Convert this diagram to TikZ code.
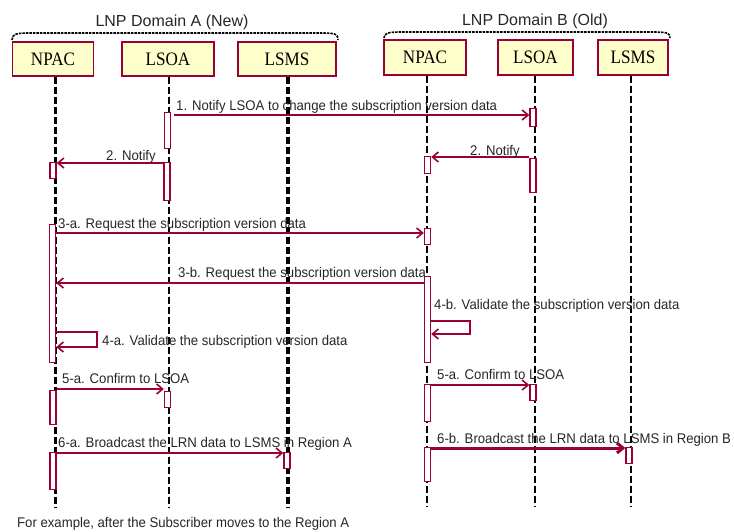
\documentclass[tikz,border=0pt]{standalone}
\usepackage{fontspec}
\setmainfont{Liberation Sans}
\newfontfamily\boxf[FakeStretch=0.9]{Liberation Serif}
\newfontfamily\lblf[FakeStretch=0.94]{Liberation Sans}
\usetikzlibrary{arrows.meta}
\definecolor{crim}{HTML}{990033}
\definecolor{boxy}{HTML}{FFFFCC}
\tikzset{
  obj/.style={rectangle, draw=crim, fill=boxy, line width=1.3pt, inner sep=0pt,
    font=\boxf\fontsize{19}{19}\selectfont},
  life/.style={draw=black, line width=2.4pt, dash pattern=on 7pt off 3pt},
  act/.style={rectangle, draw=crim, fill=white, line width=1.4pt, inner sep=0pt, minimum width=6pt},
  msg/.style={draw=crim, line width=1.6pt, -{Straight Barb[length=6pt,width=10pt]}},
  lbl/.style={inner sep=0pt, anchor=base west, text=black!85, font=\lblf\fontsize{14}{14}\selectfont},
  ttl/.style={inner sep=0pt, anchor=base, text=black!85, font=\fontsize{16}{16}\selectfont},
  brace/.style={draw=black, line width=1.6pt, dash pattern=on 2.5pt off 1pt},
}
\newcommand\actbox[4]{\node[act,anchor=north,minimum height={(#4-#3)*1pt}] (#1) at (#2,#3) {};}
\begin{document}
\begin{tikzpicture}[x=1pt,y=-1pt]
\useasboundingbox (0,0) rectangle (734,532);
% titles and braces
\node[ttl] (tA) at (172,26.7) {LNP Domain A (New)};
\node[ttl] (tB) at (535,26) {LNP Domain B (Old)};
\draw[brace] (12,40) .. controls (12,34) and (16,33) .. (30,33) -- (320,33) .. controls (336,33) and (338,34) .. (338,40);
\draw[brace] (384,38) .. controls (384,33) and (388,32) .. (402,32) -- (652,32) .. controls (668,32) and (670,33) .. (670,38);
% objects
\node[obj, minimum width=81pt, minimum height=34pt] (npacA) at (53,59) {NPAC};
\node[obj, minimum width=92pt, minimum height=34pt] (lsoaA) at (168,59) {LSOA};
\node[obj, minimum width=98pt, minimum height=34pt] (lsmsA) at (287,59) {LSMS};
\node[obj, minimum width=82pt, minimum height=35pt] (npacB) at (425,57.5) {NPAC};
\node[obj, minimum width=75pt, minimum height=35pt] (lsoaB) at (535.5,57.5) {LSOA};
\node[obj, minimum width=70pt, minimum height=35pt] (lsmsB) at (633,57.5) {LSMS};
% lifeline ends
\coordinate (eNA) at (55.5,507);
\coordinate (eLA) at (169,507);
\coordinate (eMA) at (288,507);
\coordinate (eNB) at (427,507);
\coordinate (eLB) at (535,507);
\coordinate (eMB) at (631,507);
\draw[life] (npacA.south -| eNA) -- (eNA);
\draw[life] (lsoaA.south -| eLA) -- (eLA);
\draw[life, line width=3.2pt] (lsmsA.south -| eMA) -- (eMA);
\draw[life] (npacB.south -| eNB) -- (eNB);
\draw[life] (lsoaB.south -| eLB) -- (eLB);
\draw[life] (lsmsB.south -| eMB) -- (eMB);
% activations
\actbox{aLA1}{167.5}{112}{148}
\actbox{aLB1}{533}{108}{126}
\actbox{aNA2}{53}{162}{178}
\actbox{aLA2}{167}{162}{200}
\actbox{aNB2}{427.5}{156}{173}
\actbox{aLB2}{533}{158}{192}
\actbox{aNA3}{52.5}{224}{362}
\actbox{aNB3}{427.5}{228}{244}
\actbox{aNB4}{427.5}{276}{362}
\actbox{aNA5}{53}{390}{424}
\actbox{aLA5}{167.5}{391}{407}
\actbox{aNB5}{427.5}{384}{421}
\actbox{aLB5}{533}{384}{400}
\actbox{aNA6}{53}{452}{489}
\actbox{aMA6}{287}{452}{468}
\actbox{aNB6}{427.5}{447}{481}
\actbox{aMB6}{629}{447}{463}
% message levels
\coordinate (y1) at (0,115);
\coordinate (y2a) at (0,163);
\coordinate (y2b) at (0,157);
\coordinate (y3a) at (0,233);
\coordinate (y3b) at (0,283);
\coordinate (y4bt) at (0,321);
\coordinate (y4bb) at (0,334);
\coordinate (y4at) at (0,332);
\coordinate (y4ab) at (0,347);
\coordinate (y5a) at (0,389);
\coordinate (y5b) at (0,385);
\coordinate (y6a) at (0,453);
\coordinate (y6b) at (0,448);
% messages
\draw[msg, shorten <=3pt] (aLA1.east |- y1) -- (aLB1.west |- y1);
\draw[msg] (aLA2.west |- y2a) -- (aNA2.east |- y2a);
\draw[msg] (aLB2.west |- y2b) -- (aNB2.east |- y2b);
\draw[msg] (aNA3.east |- y3a) -- (aNB3.west |- y3a);
\draw[msg] (aNB4.west |- y3b) -- (aNA3.east |- y3b);
\draw[msg] (aNB4.east |- y4bt) -- ++(39,0) |- (aNB4.east |- y4bb);
\draw[msg] (aNA3.east |- y4at) -- ++(41,0) |- (aNA3.east |- y4ab);
\draw[msg] (aNA5.east |- y5a) -- (aLA5.west |- y5a);
\draw[msg] (aNB5.east |- y5b) -- (aLB5.west |- y5b);
\draw[msg] (aNA6.east |- y6a) -- (aMA6.west |- y6a);
\draw[msg, line width=3pt] (aNB6.east |- y6b) -- (aMB6.west |- y6b);
% labels
\node[lbl] (l1) at (176,111) {1. Notify LSOA to change the subscription version data};
\node[lbl] (l2a) at (106,160.5) {2. Notify};
\node[lbl] (l2b) at (470,156) {2. Notify};
\node[lbl] (l3a) at (58,228.3) {3-a. Request the subscription version data};
\node[lbl] (l3b) at (178,277) {3-b. Request the subscription version data};
\node[lbl] (l4b) at (434,309) {4-b. Validate the subscription version data};
\node[lbl] (l4a) at (102,345) {4-a. Validate the subscription version data};
\node[lbl] (l5a) at (62,383) {5-a. Confirm to LSOA};
\node[lbl] (l5b) at (437,379) {5-a. Confirm to LSOA};
\node[lbl] (l6a) at (58,447.5) {6-a. Broadcast the LRN data to LSMS in Region A};
\node[lbl] (l6b) at (437,443) {6-b. Broadcast the LRN data to LSMS in Region B};
\node[lbl] (foot) at (17,527) {For example, after the Subscriber moves to the Region A};
\end{tikzpicture}
\end{document}
